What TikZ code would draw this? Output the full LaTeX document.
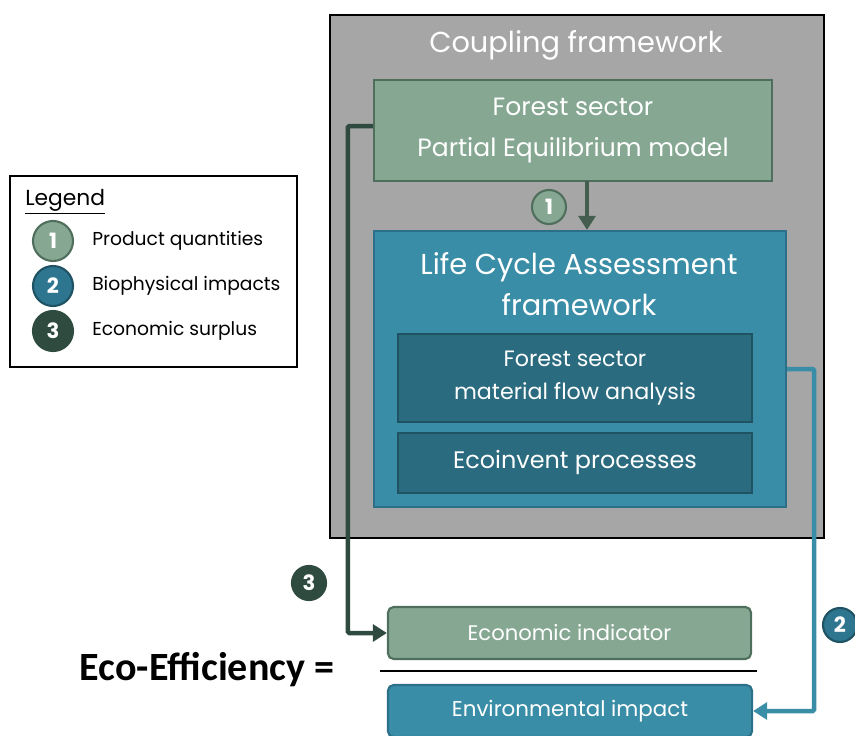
\documentclass[tikz,border=0pt]{standalone}
\usepackage{fontspec}
\setmainfont{Poppins}
\newfontfamily\eqfont{Carlito}
\usetikzlibrary{arrows.meta}

\definecolor{framegray}{HTML}{A6A6A6}
\definecolor{sage}{HTML}{86A893}
\definecolor{sagedark}{HTML}{4F6E5C}
\definecolor{forestdark}{HTML}{2F4A3F}
\definecolor{lcateal}{HTML}{3A8DA6}
\definecolor{lcaborder}{HTML}{2B7088}
\definecolor{mfateal}{HTML}{2B6B7F}
\definecolor{mfaborder}{HTML}{1F5263}
\definecolor{badgeteal}{HTML}{2E7590}

\tikzset{
  framebox/.style={draw=black, line width=1.5pt, fill=framegray},
  greenbox/.style={draw=sagedark, line width=1.5pt, fill=sage, text=white, align=center, inner sep=0pt},
  tealbox/.style={draw=lcaborder, line width=1.5pt, fill=lcateal, text=white, align=center, inner sep=0pt},
  mfabox/.style={draw=mfaborder, line width=1.5pt, fill=mfateal, text=white, align=center, inner sep=0pt},
  badge/.style={circle, line width=1.5pt, minimum size=0.85cm, inner sep=0pt, text=white,
    font=\fontsize{15}{15}\selectfont\bfseries},
  flow/.style={line width=3.2pt, -{Triangle[length=10pt, width=12pt]}},
}

\begin{document}
\begin{tikzpicture}[x=0.025cm, y=-0.025cm]
  % area da figura
  \useasboundingbox (0,0) rectangle (855,736);
  \clip (0,0) rectangle (855,736);

  % caixa cinza do acoplamento
  \node[framebox, minimum width=12.35cm, minimum height=13.075cm] (coupling) at (577,276.5) {};
  \node[text=white, font=\fontsize{20.5}{24}\selectfont] (couplingtitle) at (576,45) {Coupling framework};

  % modelo de equilibrio parcial
  \node[greenbox, minimum width=9.95cm, minimum height=2.525cm,
    font=\fontsize{17.8}{28.5}\selectfont] (pem) at (573,130.5) {Forest sector\\Partial Equilibrium model};

  % quadro da ACV
  \node[tealbox, minimum width=10.3cm, minimum height=6.9cm] (lca) at (580,369) {};
  \node[text=white, align=center, font=\fontsize{20.5}{29}\selectfont] (lcatitle) at (579,284)
    {Life Cycle Assessment\\framework};
  \node[mfabox, minimum width=8.85cm, minimum height=2.2cm,
    font=\fontsize{15.8}{24}\selectfont] (mfa) at (575,378) {Forest sector\\material flow analysis};
  \node[mfabox, minimum width=8.85cm, minimum height=1.5cm,
    font=\fontsize{17}{20}\selectfont] (ecoinvent) at (575,463) {Ecoinvent processes};

  % razao de eco-eficiencia
  \node[greenbox, rounded corners=4pt, minimum width=9.075cm, minimum height=1.3cm,
    font=\fontsize{15}{18}\selectfont] (econ) at (569.5,633) {Economic indicator};
  \node[tealbox, rounded corners=4pt, minimum width=9.1cm, minimum height=1.3cm,
    font=\fontsize{15.2}{18}\selectfont] (env) at (570,711) {Environmental impact};
  \coordinate (barl) at (380,671);
  \coordinate (barr) at (757,671);
  \draw[line width=1.5pt] (barl) -- (barr);
  \node[font=\eqfont\bfseries\fontsize{28.5}{32}\selectfont] (ecoeff) at (207,670) {Eco-Efficiency =};

  % fluxo 1
  \coordinate (q1) at (587,181);
  \draw[flow, draw=sagedark!85!black, line width=2.6pt] (q1) -- (q1 |- lca.north);
  \node[badge, fill=sage, draw=sagedark] (b1) at (549,207) {1};

  % fluxo 3
  \draw[flow, draw=forestdark, rounded corners=1pt] (pem.west |- 0,126) -- ++(-25,0) |- (econ.west);
  \node[badge, fill=forestdark, draw=forestdark] (b3) at (309,583) {3};

  % fluxo 2
  \draw[flow, draw=lcateal, rounded corners=1pt] (lca.east) -- ++(27,0) |- (env.east);
  \node[badge, fill=badgeteal, draw=mfaborder] (b2) at (840,625) {2};

  % legenda
  \node[draw=black, line width=1.5pt, fill=white, minimum width=7.175cm, minimum height=4.775cm] (legend) at (153.5,271.5) {};
  \node[anchor=west, inner sep=0pt, font=\fontsize{15.5}{18}\selectfont] (legendtitle) at (25,202) {\underline{Legend}};
  \node[badge, minimum size=1.0cm, fill=sage, draw=sagedark] (l1) at (53,241) {1};
  \node[badge, minimum size=1.0cm, fill=badgeteal, draw=mfaborder] (l2) at (53,286) {2};
  \node[badge, minimum size=1.0cm, fill=forestdark, draw=forestdark] (l3) at (53,331) {3};
  \node[anchor=west, inner sep=0pt, font=\fontsize{13.3}{15}\selectfont] (t1) at (92,241) {Product quantities};
  \node[anchor=west, inner sep=0pt, font=\fontsize{13.3}{15}\selectfont] (t2) at (92,286) {Biophysical impacts};
  \node[anchor=west, inner sep=0pt, font=\fontsize{13.3}{15}\selectfont] (t3) at (92,331) {Economic surplus};
\end{tikzpicture}
\end{document}
